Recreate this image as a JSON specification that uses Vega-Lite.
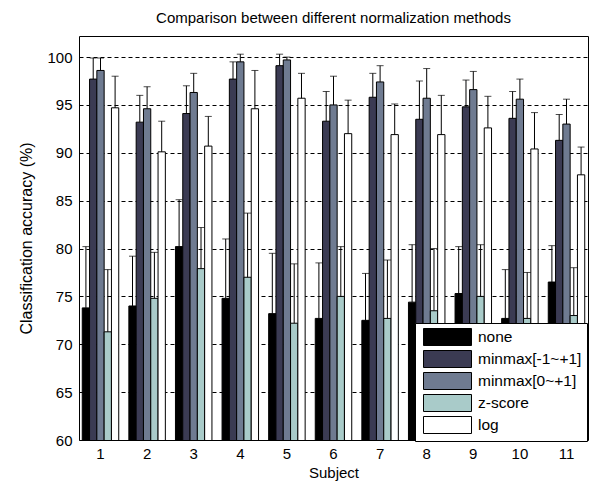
{
  "$schema": "https://vega.github.io/schema/vega-lite/v6.json",
  "width": 509,
  "height": 404,
  "autosize": {"type": "none"},
  "padding": {"left": 79, "top": 36, "right": 5, "bottom": 41},
  "title": {"text": "Comparison between different normalization methods", "fontSize": 15, "font": "Liberation Sans", "fontWeight": "normal", "color": "black", "offset": 10, "anchor": "middle"},
  "config": {
    "view": {"stroke": "black", "strokeWidth": 1},
    "font": "Liberation Sans",
    "axis": {"labelFont": "Liberation Sans", "titleFont": "Liberation Sans", "labelColor": "black", "titleColor": "black", "titleFontWeight": "normal", "domain": false}
  },
  "data": {"values": [
    {"subject": 1, "method": "none", "acc": 73.8, "hi": 80.2},
    {"subject": 1, "method": "minmax[-1~+1]", "acc": 97.7, "hi": 99.9},
    {"subject": 1, "method": "minmax[0~+1]", "acc": 98.6, "hi": 99.9},
    {"subject": 1, "method": "z-score", "acc": 71.3, "hi": 77.8},
    {"subject": 1, "method": "log", "acc": 94.7, "hi": 98.0},
    {"subject": 2, "method": "none", "acc": 74.0, "hi": 79.2},
    {"subject": 2, "method": "minmax[-1~+1]", "acc": 93.2, "hi": 96.0},
    {"subject": 2, "method": "minmax[0~+1]", "acc": 94.6, "hi": 96.9},
    {"subject": 2, "method": "z-score", "acc": 74.8, "hi": 79.6},
    {"subject": 2, "method": "log", "acc": 90.1, "hi": 93.3},
    {"subject": 3, "method": "none", "acc": 80.2, "hi": 85.1},
    {"subject": 3, "method": "minmax[-1~+1]", "acc": 94.1, "hi": 97.0},
    {"subject": 3, "method": "minmax[0~+1]", "acc": 96.3, "hi": 98.3},
    {"subject": 3, "method": "z-score", "acc": 77.9, "hi": 82.2},
    {"subject": 3, "method": "log", "acc": 90.7, "hi": 93.8},
    {"subject": 4, "method": "none", "acc": 74.8, "hi": 81.0},
    {"subject": 4, "method": "minmax[-1~+1]", "acc": 97.7, "hi": 99.5},
    {"subject": 4, "method": "minmax[0~+1]", "acc": 99.5, "hi": 100.3},
    {"subject": 4, "method": "z-score", "acc": 77.0, "hi": 83.7},
    {"subject": 4, "method": "log", "acc": 94.6, "hi": 98.6},
    {"subject": 5, "method": "none", "acc": 73.2, "hi": 79.5},
    {"subject": 5, "method": "minmax[-1~+1]", "acc": 99.1, "hi": 100.3},
    {"subject": 5, "method": "minmax[0~+1]", "acc": 99.7, "hi": 100.0},
    {"subject": 5, "method": "z-score", "acc": 72.2, "hi": 78.4},
    {"subject": 5, "method": "log", "acc": 95.7, "hi": 98.3},
    {"subject": 6, "method": "none", "acc": 72.7, "hi": 78.5},
    {"subject": 6, "method": "minmax[-1~+1]", "acc": 93.3, "hi": 96.4},
    {"subject": 6, "method": "minmax[0~+1]", "acc": 95.0, "hi": 98.0},
    {"subject": 6, "method": "z-score", "acc": 75.0, "hi": 80.2},
    {"subject": 6, "method": "log", "acc": 92.0, "hi": 95.5},
    {"subject": 7, "method": "none", "acc": 72.5, "hi": 77.4},
    {"subject": 7, "method": "minmax[-1~+1]", "acc": 95.8, "hi": 98.3},
    {"subject": 7, "method": "minmax[0~+1]", "acc": 97.4, "hi": 99.1},
    {"subject": 7, "method": "z-score", "acc": 72.7, "hi": 78.8},
    {"subject": 7, "method": "log", "acc": 91.9, "hi": 95.1},
    {"subject": 8, "method": "none", "acc": 74.4, "hi": 80.4},
    {"subject": 8, "method": "minmax[-1~+1]", "acc": 93.5, "hi": 97.5},
    {"subject": 8, "method": "minmax[0~+1]", "acc": 95.7, "hi": 98.8},
    {"subject": 8, "method": "z-score", "acc": 73.5, "hi": 80.0},
    {"subject": 8, "method": "log", "acc": 91.9, "hi": 96.0},
    {"subject": 9, "method": "none", "acc": 75.3, "hi": 80.2},
    {"subject": 9, "method": "minmax[-1~+1]", "acc": 94.8, "hi": 97.6},
    {"subject": 9, "method": "minmax[0~+1]", "acc": 96.6, "hi": 98.5},
    {"subject": 9, "method": "z-score", "acc": 75.0, "hi": 80.4},
    {"subject": 9, "method": "log", "acc": 92.6, "hi": 95.9},
    {"subject": 10, "method": "none", "acc": 72.7, "hi": 77.8},
    {"subject": 10, "method": "minmax[-1~+1]", "acc": 93.6, "hi": 96.4},
    {"subject": 10, "method": "minmax[0~+1]", "acc": 95.6, "hi": 97.7},
    {"subject": 10, "method": "z-score", "acc": 72.7, "hi": 77.5},
    {"subject": 10, "method": "log", "acc": 90.4, "hi": 94.2},
    {"subject": 11, "method": "none", "acc": 76.5, "hi": 80.3},
    {"subject": 11, "method": "minmax[-1~+1]", "acc": 91.3, "hi": 94.0},
    {"subject": 11, "method": "minmax[0~+1]", "acc": 93.0, "hi": 95.6},
    {"subject": 11, "method": "z-score", "acc": 73.0, "hi": 78.0},
    {"subject": 11, "method": "log", "acc": 87.7, "hi": 90.6}
  ]},
  "encoding": {
    "x": {"field": "subject", "type": "ordinal", "scale": {"paddingInner": 0.217, "paddingOuter": 0.07},
      "axis": {"title": "Subject", "labelAngle": 0, "labelFontSize": 15, "titleFontSize": 15, "ticks": false, "labelPadding": 6, "titlePadding": 4, "grid": false}},
    "xOffset": {"field": "method", "type": "nominal", "sort": ["none", "minmax[-1~+1]", "minmax[0~+1]", "z-score", "log"], "scale": {"paddingInner": 0, "paddingOuter": 0}}
  },
  "layer": [
    {
      "mark": {"type": "bar", "stroke": "black", "strokeWidth": 1, "opacity": 1, "clip": true},
      "encoding": {
        "y": {"field": "acc", "type": "quantitative", "scale": {"domain": [60, 102.2], "nice": false, "zero": false},
          "axis": {"title": "Classification accuracy (%)", "values": [60, 65, 70, 75, 80, 85, 90, 95, 100], "labelFontSize": 15, "titleFontSize": 16, "grid": true, "gridColor": "black", "gridDash": [4, 3], "gridOpacity": 1, "gridWidth": 1, "ticks": false, "labelPadding": 7, "titlePadding": 12}},
        "color": {"field": "method", "type": "nominal", "sort": ["none", "minmax[-1~+1]", "minmax[0~+1]", "z-score", "log"],
          "scale": {"domain": ["none", "minmax[-1~+1]", "minmax[0~+1]", "z-score", "log"], "range": ["#000000", "#3b3b53", "#6f7b91", "#a9cbc9", "#ffffff"]},
          "legend": {"title": null, "orient": "none", "legendX": 336, "legendY": 287, "fillColor": "white", "strokeColor": "black", "padding": 5,
            "symbolType": "M-0.647,-1H5V1H-0.647Z", "symbolSize": 289, "symbolStrokeColor": "black", "symbolStrokeWidth": 1, "symbolOpacity": 1,
            "labelFontSize": 15.5, "labelFont": "Liberation Sans", "labelColor": "black", "labelOffset": 40, "rowPadding": 0}}
      }
    },
    {
      "mark": {"type": "rule", "color": "black", "strokeWidth": 1},
      "encoding": {
        "y": {"field": "acc", "type": "quantitative"},
        "y2": {"field": "hi"}
      }
    },
    {
      "mark": {"type": "tick", "color": "black", "thickness": 1, "size": 7, "orient": "horizontal"},
      "encoding": {
        "y": {"field": "hi", "type": "quantitative"}
      }
    }
  ]
}
